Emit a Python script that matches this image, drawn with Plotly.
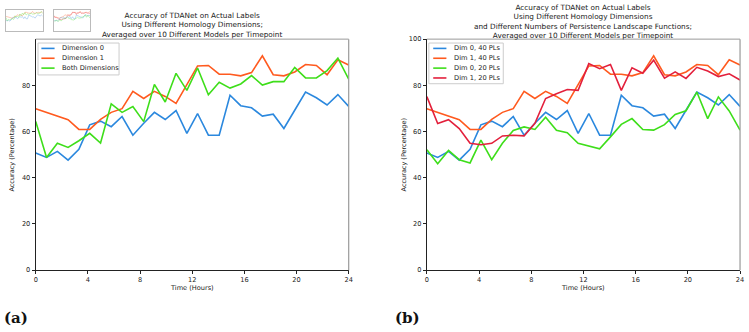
import plotly.graph_objects as go

W, H = 749, 332

times = [0, 0.83, 1.66, 2.48, 3.31, 4.14, 4.97, 5.79, 6.62, 7.45, 8.28, 9.1, 9.93, 10.76, 11.59,
         12.41, 13.24, 14.07, 14.9, 15.72, 16.55, 17.38, 18.21, 19.03, 19.86, 20.69, 21.52,
         22.34, 23.17, 24]

dim0_40 = [50.7, 48.8, 51.4, 47.6, 52.3, 62.9, 64.5, 62.1, 66.5, 58.4, 63.6, 68.3, 65.2, 69.1, 59.2,
           67.8, 58.4, 58.4, 75.7, 71.2, 70.3, 66.7, 67.5, 61.3, 69.2, 77.1, 74.6, 71.5, 76.0, 70.9]
dim1_40 = [69.9, 68.3, 66.7, 65.1, 60.9, 60.9, 65.3, 68.3, 69.9, 77.4, 74.3, 77.4, 75.2, 72.2, 80.3,
           88.4, 88.6, 84.8, 84.8, 84.1, 85.5, 92.8, 84.6, 84.1, 85.8, 89.0, 88.6, 84.6, 91.1, 88.8]
both_dims = [64.4, 48.8, 54.9, 53.1, 56.0, 59.2, 55.0, 72.0, 68.3, 70.8, 64.3, 80.4, 72.8, 85.2, 77.8,
             87.5, 75.9, 81.3, 78.8, 80.6, 84.2, 80.1, 81.6, 81.6, 87.7, 83.2, 83.2, 86.4, 91.8, 82.7]
dim0_20 = [52.1, 46.1, 51.8, 47.8, 46.4, 56.3, 47.8, 54.9, 60.5, 62.0, 60.9, 66.2, 60.5, 59.5, 54.9,
           53.6, 52.5, 57.7, 63.1, 65.6, 60.9, 60.6, 63.0, 67.4, 69.0, 77.1, 65.6, 75.0, 68.9, 60.6]
dim1_20 = [75.1, 63.5, 65.1, 61.3, 54.9, 54.3, 54.9, 58.1, 58.4, 58.1, 63.6, 74.3, 76.4, 78.2, 77.8,
           89.4, 87.2, 89.0, 77.8, 87.6, 85.2, 90.9, 83.1, 85.8, 83.0, 87.8, 86.2, 83.8, 85.0, 82.3]

left_names = ["Dimension 0", "Dimension 1", "Both Dimensions"]
right_names = ["Dim 0, 40 PLs", "Dim 1, 40 PLs", "Dim 0, 20 PLs", "Dim 1, 20 PLs"]
x_ticks = [0, 4, 8, 12, 16, 20, 24]
y_ticks_left = [0, 20, 40, 60, 80]
y_ticks_right = [0, 20, 40, 60, 80, 100]
title_left = ["Accuracy of TDANet on Actual Labels",
              "Using Different Homology Dimensions;",
              "Averaged over 10 Different Models per Timepoint"]
title_right = ["Accuracy of TDANet on Actual Labels",
               "Using Different Homology Dimensions",
               "and Different Numbers of Persistence Landscape Functions;",
               "Averaged over 10 Different Models per Timepoint"]

BLUE, ORANGE, GREEN, RED = "#2b88de", "#ff5a1f", "#3ede1a", "#e3203c"
FONT = "DejaVu Sans"


def px_x(p):
    return p / W


def px_y(p):
    return 1 - p / H


fig = go.Figure()

left_series = [(dim0_40, BLUE), (dim1_40, ORANGE), (both_dims, GREEN)]
right_series = [(dim0_40, BLUE), (dim1_40, ORANGE), (dim0_20, GREEN), (dim1_20, RED)]

for (vals, col), name in zip(left_series, left_names):
    fig.add_trace(go.Scatter(x=times, y=vals, mode="lines", name=name, showlegend=False,
                             line=dict(color=col, width=1.6), xaxis="x", yaxis="y"))
for (vals, col), name in zip(right_series, right_names):
    fig.add_trace(go.Scatter(x=times, y=vals, mode="lines", name=name, showlegend=False,
                             line=dict(color=col, width=1.6), xaxis="x2", yaxis="y2"))

# thumbnail copies (top-left corner of the reference)
for (vals, col) in left_series:
    fig.add_trace(go.Scatter(x=times, y=vals, mode="lines", showlegend=False, opacity=0.6,
                             line=dict(color=col, width=0.5), xaxis="x3", yaxis="y3",
                             hoverinfo="skip"))
for (vals, col) in right_series:
    fig.add_trace(go.Scatter(x=times, y=vals, mode="lines", showlegend=False, opacity=0.6,
                             line=dict(color=col, width=0.5), xaxis="x4", yaxis="y4",
                             hoverinfo="skip"))

L0, L1 = 34.0, 349.5
R0, R1 = 428.3, 744.0
T0, B0 = 36.0, 272.7

axis_common = dict(showgrid=False, zeroline=False, ticks="outside", ticklen=3, tickwidth=1,
                   tickcolor="#222", showline=True, linecolor="#222", linewidth=1.2,
                   tickfont=dict(family=FONT, size=6.6, color="#222"))
thumb_axis = dict(showticklabels=False, showgrid=False, zeroline=False, showline=True,
                  mirror=True, linecolor="#bbb", linewidth=0.5)

fig.update_layout(
    width=W, height=H, margin=dict(l=0, r=0, t=0, b=0),
    paper_bgcolor="white", plot_bgcolor="white", showlegend=False,
    font=dict(family=FONT, color="#222"),
    xaxis=dict(domain=[px_x(L0), px_x(L1)], range=[0, 24], tickvals=x_ticks, anchor="y",
               **axis_common),
    yaxis=dict(domain=[px_y(B0), px_y(T0)], range=[0, 100], tickvals=y_ticks_left, anchor="x",
               **axis_common),
    xaxis2=dict(domain=[px_x(R0), px_x(R1)], range=[0, 24], tickvals=x_ticks, anchor="y2",
                **axis_common),
    yaxis2=dict(domain=[px_y(B0), px_y(T0)], range=[0, 100], tickvals=y_ticks_right, anchor="x2",
                **axis_common),
    xaxis3=dict(domain=[px_x(4), px_x(41)], range=[0, 24], anchor="y3", **thumb_axis),
    yaxis3=dict(domain=[px_y(28), px_y(6)], range=[0, 100], anchor="x3", **thumb_axis),
    xaxis4=dict(domain=[px_x(52), px_x(89)], range=[0, 24], anchor="y4", **thumb_axis),
    yaxis4=dict(domain=[px_y(28), px_y(6)], range=[0, 100], anchor="x4", **thumb_axis),
)

shapes = []
ann = []

# axes frame (top/right in lighter grey)
for (x0, x1) in [(L0, L1), (R0, R1)]:
    shapes.append(dict(type="line", xref="paper", yref="paper", x0=px_x(x0), x1=px_x(x1),
                       y0=px_y(T0), y1=px_y(T0), line=dict(color="#999", width=1)))
    shapes.append(dict(type="line", xref="paper", yref="paper", x0=px_x(x1), x1=px_x(x1),
                       y0=px_y(T0), y1=px_y(B0), line=dict(color="#999", width=1.2)))

# hand-built legends (matplotlib style, compact)
legends = [
    (36.3, 118.0, 40.0, 72.7, 39.7, 53.0, 58.5, left_names, [c for _, c in left_series]),
    (430.3, 505.3, 40.0, 81.7, 434.7, 448.0, 453.5, right_names, [c for _, c in right_series]),
]
for (bx0, bx1, by0, by1, sx0, sx1, tx, names, cols) in legends:
    shapes.append(dict(type="rect", xref="paper", yref="paper", x0=px_x(bx0), x1=px_x(bx1),
                       y0=px_y(by1), y1=px_y(by0), line=dict(color="#cccccc", width=1),
                       fillcolor="rgba(255,255,255,0.85)", layer="above"))
    for k, (nm, col) in enumerate(zip(names, cols)):
        yy = 45.5 + 10.1 * k
        shapes.append(dict(type="line", xref="paper", yref="paper", x0=px_x(sx0), x1=px_x(sx1),
                           y0=px_y(yy), y1=px_y(yy), line=dict(color=col, width=1.6)))
        ann.append(dict(text=nm, x=px_x(tx), y=px_y(yy), xref="paper", yref="paper",
                        showarrow=False, xanchor="left", yanchor="middle",
                        font=dict(family=FONT, size=6.7, color="#222")))
fig.update_layout(shapes=shapes)

ann.append(dict(text="<br>".join(title_left), x=px_x((L0 + L1) / 2), y=px_y(21.8),
                xref="paper", yref="paper", showarrow=False, xanchor="center",
                yanchor="middle", align="center",
                font=dict(family=FONT, size=7.3, color="#222")))
ann.append(dict(text="<br>".join(title_right), x=px_x((R0 + R1) / 2), y=px_y(17.6),
                xref="paper", yref="paper", showarrow=False, xanchor="center",
                yanchor="middle", align="center",
                font=dict(family=FONT, size=7.3, color="#222")))
for (x0, x1, yl) in [(L0, L1, 10), (R0, R1, 405)]:
    ann.append(dict(text="Time (Hours)", x=px_x((x0 + x1) / 2), y=px_y(290.5), xref="paper",
                    yref="paper", showarrow=False, xanchor="center", yanchor="middle",
                    font=dict(family=FONT, size=6.6, color="#222")))
    ann.append(dict(text="Accuracy (Percentage)", x=px_x(yl), y=px_y((T0 + B0) / 2),
                    xref="paper", yref="paper", showarrow=False, textangle=-90,
                    xanchor="center", yanchor="middle",
                    font=dict(family=FONT, size=6.5, color="#222")))
ann.append(dict(text="<b>(a)</b>", x=px_x(0), y=px_y(322), xref="paper", yref="paper",
                showarrow=False, xanchor="left", yanchor="middle",
                font=dict(family="DejaVu Serif", size=15, color="#111")))
ann.append(dict(text="<b>(b)</b>", x=px_x(394), y=px_y(322), xref="paper", yref="paper",
                showarrow=False, xanchor="left", yanchor="middle",
                font=dict(family="DejaVu Serif", size=15, color="#111")))
fig.update_layout(annotations=ann)

fig.write_html("out.html")
